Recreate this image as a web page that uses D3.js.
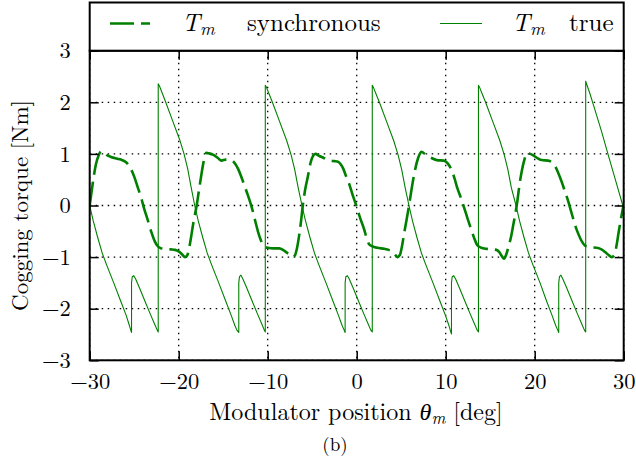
<!DOCTYPE html>
<html><head><meta charset="utf-8">
<script src="https://cdn.jsdelivr.net/npm/d3@7"></script>
<style>body{margin:0;background:#fff}</style>
</head><body><svg id="c" width="636" height="468"></svg>
<script>
const xTicks=[-30,-20,-10,0,10,20,30];
const yTicks=[-3,-2,-1,0,1,2,3];
const seriesNames=["synchronous","true"];

// T_m synchronous: [theta (deg), torque (Nm)]
const syncData=[
[-30,0],[-29.8,0.25],[-29.6,0.5],[-29.3,0.8],[-29.0,0.97],[-28.7,1.05],[-28.4,1.02],[-28.1,0.98],[-27.6,0.94],[-27.0,0.91],[-26.5,0.89],[-26.1,0.86],[-25.7,0.8],[-25.4,0.72],[-25.0,0.56],[-24.6,0.35],[-24.2,0.14],[-23.9,-0.05],[-23.5,-0.27],[-23.1,-0.5],[-22.7,-0.69],[-22.35,-0.79],[-22.0,-0.83],[-21.5,-0.84],[-20.9,-0.85],[-20.4,-0.86],[-20.0,-0.89],[-19.6,-0.95],[-19.3,-1.0],[-19.05,-0.97],[-18.8,-0.8],[-18.55,-0.55],[-18.3,-0.28],[-18.0,-0.02],[-17.7,0.32],[-17.45,0.6],[-17.2,0.85],[-16.9,1.02],[-16.6,1.01],[-16.1,0.98],[-15.6,0.92],[-15.2,0.87],[-14.7,0.89],[-14.1,0.88],[-13.7,0.82],[-13.3,0.7],[-13.0,0.57],[-12.6,0.38],[-12.25,0.21],[-11.8,-0.03],[-11.4,-0.3],[-11.1,-0.5],[-10.8,-0.66],[-10.5,-0.77],[-10.0,-0.82],[-9.3,-0.83],[-8.7,-0.83],[-8.2,-0.87],[-7.8,-0.92],[-7.5,-0.96],[-7.2,-1.0],[-6.95,-0.97],[-6.7,-0.82],[-6.45,-0.56],[-6.25,-0.3],[-6.07,-0.02],[-5.8,0.3],[-5.5,0.55],[-5.15,0.85],[-4.9,0.96],[-4.65,1.0],[-4.2,0.96],[-3.8,0.93],[-3.1,0.87],[-2.5,0.86],[-2.1,0.85],[-1.8,0.8],[-1.5,0.71],[-1.2,0.57],[-0.83,0.41],[-0.45,0.2],[-0.05,0.0],[0.4,-0.25],[0.85,-0.47],[1.1,-0.62],[1.4,-0.75],[1.75,-0.79],[2.3,-0.82],[3.1,-0.84],[3.6,-0.86],[4.0,-0.89],[4.3,-0.95],[4.56,-1.0],[4.85,-0.96],[5.1,-0.78],[5.31,-0.56],[5.6,-0.28],[5.88,0.0],[6.15,0.3],[6.45,0.6],[6.9,0.92],[7.26,1.04],[7.8,0.98],[8.3,0.93],[9.0,0.88],[9.8,0.87],[10.2,0.82],[10.6,0.71],[11.0,0.52],[11.3,0.34],[11.7,0.15],[12.05,-0.03],[12.45,-0.25],[12.8,-0.43],[13.2,-0.63],[13.55,-0.77],[14.0,-0.82],[14.6,-0.84],[15.2,-0.85],[15.7,-0.86],[16.0,-0.9],[16.3,-0.98],[16.55,-1.03],[16.8,-0.95],[17.05,-0.8],[17.35,-0.6],[17.6,-0.37],[17.98,0.0],[18.35,0.47],[18.8,0.86],[19.17,1.02],[19.5,1.0],[19.84,0.97],[20.3,0.92],[20.8,0.88],[21.5,0.87],[21.9,0.84],[22.28,0.77],[22.6,0.65],[23.03,0.46],[23.4,0.27],[23.77,0.08],[24.15,-0.15],[24.52,-0.37],[24.9,-0.55],[25.28,-0.69],[25.77,-0.79],[26.3,-0.81],[26.97,-0.82],[27.5,-0.85],[27.9,-0.9],[28.3,-0.96],[28.65,-1.0],[28.85,-0.98],[29.05,-0.9],[29.25,-0.72],[29.45,-0.5],[29.7,-0.25],[30.0,0.02]
];

// T_m true: [theta (deg), torque (Nm)]
const trueData=[
[-30,0],[-29.6,-0.3],[-29.1,-0.62],[-28.6,-0.92],[-28.1,-1.15],[-27.3,-1.5],[-26.5,-1.86],[-25.9,-2.13],[-25.55,-2.32],[-25.38,-2.42],[-25.3,-2.46],
[-25.3,-1.5],[-25.22,-1.38],[-25.05,-1.36],[-24.85,-1.42],[-24.4,-1.6],[-23.8,-1.85],[-23.2,-2.1],[-22.7,-2.3],[-22.4,-2.42],[-22.3,-2.45],
[-22.3,2.36],[-22.15,2.31],[-21.9,2.2],[-21.5,2.02],[-20.7,1.65],[-19.9,1.28],[-19.4,1.0],[-19.0,0.72],[-18.6,0.35],[-18.2,0.0],[-17.8,-0.3],[-17.3,-0.62],[-16.8,-0.92],[-16.3,-1.15],[-15.5,-1.5],[-14.7,-1.86],[-14.1,-2.13],[-13.7,-2.32],[-13.45,-2.42],[-13.25,-2.46],
[-13.25,-1.5],[-13.17,-1.38],[-13.0,-1.35],[-12.8,-1.42],[-12.35,-1.6],[-11.75,-1.85],[-11.15,-2.1],[-10.65,-2.3],[-10.37,-2.42],[-10.27,-2.45],
[-10.27,2.33],[-10.12,2.28],[-9.87,2.17],[-9.47,2.0],[-8.67,1.63],[-7.87,1.26],[-7.37,0.98],[-6.97,0.7],[-6.57,0.34],[-6.15,0.0],[-5.75,-0.3],[-5.25,-0.62],[-4.75,-0.92],[-4.25,-1.15],[-3.45,-1.5],[-2.65,-1.86],[-2.05,-2.13],[-1.65,-2.32],[-1.4,-2.42],[-1.3,-2.46],
[-1.3,-1.5],[-1.22,-1.38],[-1.05,-1.36],[-0.85,-1.42],[-0.4,-1.6],[0.2,-1.85],[0.8,-2.1],[1.3,-2.3],[1.6,-2.42],[1.75,-2.45],
[1.75,2.33],[1.9,2.28],[2.15,2.17],[2.55,2.0],[3.35,1.63],[4.15,1.26],[4.65,0.98],[5.05,0.7],[5.45,0.34],[5.87,0.0],[6.27,-0.3],[6.77,-0.62],[7.27,-0.92],[7.77,-1.15],[8.57,-1.5],[9.37,-1.86],[9.97,-2.13],[10.35,-2.32],[10.55,-2.44],[10.65,-2.49],
[10.65,-1.5],[10.73,-1.38],[10.9,-1.36],[11.1,-1.42],[11.55,-1.6],[12.15,-1.85],[12.75,-2.1],[13.25,-2.3],[13.55,-2.42],[13.68,-2.45],
[13.68,2.33],[13.83,2.28],[14.08,2.17],[14.48,2.0],[15.28,1.63],[16.08,1.26],[16.58,0.98],[16.98,0.7],[17.38,0.34],[17.9,0.0],[18.3,-0.3],[18.8,-0.62],[19.3,-0.92],[19.8,-1.15],[20.6,-1.5],[21.35,-1.86],[21.95,-2.13],[22.35,-2.32],[22.6,-2.42],[22.7,-2.46],
[22.7,-1.5],[22.78,-1.38],[22.95,-1.35],[23.15,-1.42],[23.6,-1.6],[24.2,-1.85],[24.8,-2.1],[25.3,-2.3],[25.6,-2.42],[25.73,-2.45],
[25.73,2.41],[25.88,2.33],[26.2,2.17],[26.58,1.96],[27.5,1.44],[28.46,0.86],[29.2,0.42],[29.9,0.0],[30,-0.06]
];

const W=636,H=468;
const L=89.7,R=623.7,T=50.7,B=360.3;
const green="#008000";
const FONT="Latin Modern Roman";
const svg=d3.select("#c");
const x=d3.scaleLinear().domain([-30,30]).range([L,R]);
const y=d3.scaleLinear().domain([-3,3]).range([B,T]);

svg.append("rect").attr("width",W).attr("height",H).attr("fill","#fff");

svg.append("clipPath").attr("id","clip").append("rect")
  .attr("x",L).attr("y",T).attr("width",R-L).attr("height",B-T);

// grid
const grid=svg.append("g").attr("stroke","#000").attr("stroke-width",1.3).attr("stroke-dasharray","1.5,4.5");
grid.selectAll(".gx").data(xTicks).join("line")
  .attr("x1",d=>x(d)).attr("x2",d=>x(d)).attr("y1",T).attr("y2",B);
grid.selectAll(".gy").data(yTicks).join("line")
  .attr("x1",L).attr("x2",R).attr("y1",d=>y(d)).attr("y2",d=>y(d));

// lines
const line=d3.line().x(d=>x(d[0])).y(d=>y(d[1]));
const plot=svg.append("g").attr("clip-path","url(#clip)");
plot.append("path").datum(trueData).attr("d",line)
  .attr("fill","none").attr("stroke",green).attr("stroke-width",1.1).attr("stroke-linejoin","round");
plot.append("path").datum(syncData).attr("d",d3.line().x(d=>x(d[0])).y(d=>y(d[1])).curve(d3.curveMonotoneX))
  .attr("fill","none").attr("stroke",green).attr("stroke-width",2.6).attr("stroke-dasharray","24,7");

// axes
const fmt=d=>d<0?"\u2212"+Math.abs(d):String(d);
const ax=svg.append("g").attr("transform",`translate(0,${B})`)
  .call(d3.axisBottom(x).tickValues(xTicks).tickSize(-9).tickPadding(13).tickFormat(fmt));
const ay=svg.append("g").attr("transform",`translate(${L},0)`)
  .call(d3.axisLeft(y).tickValues(yTicks).tickSize(-9).tickPadding(19).tickFormat(fmt));
const at=svg.append("g").attr("transform",`translate(0,${T})`)
  .call(d3.axisTop(x).tickValues(xTicks).tickSize(-9).tickFormat(""));
const ar=svg.append("g").attr("transform",`translate(${R},0)`)
  .call(d3.axisRight(y).tickValues(yTicks).tickSize(-9).tickFormat(""));
[ax,ay,at,ar].forEach(g=>{
  g.select(".domain").remove();
  g.selectAll(".tick line").attr("stroke","#000").attr("stroke-width",1.5);
  g.selectAll("text").style("font-family",FONT).attr("font-size",22.5).attr("fill","#000");
});

// frame
svg.append("rect").attr("x",L).attr("y",T).attr("width",R-L).attr("height",B-T)
  .attr("fill","none").attr("stroke","#000").attr("stroke-width",2);

// legend
const lg=svg.append("g");
lg.append("rect").attr("x",L).attr("y",2.5).attr("width",R-L).attr("height",T-2.5)
  .attr("fill","#fff").attr("stroke","#000").attr("stroke-width",2);
const ly=23.5;
lg.append("line").attr("x1",110).attr("x2",150).attr("y1",ly).attr("y2",ly)
  .attr("stroke",green).attr("stroke-width",2.6).attr("stroke-dasharray","24,7");
lg.append("line").attr("x1",440).attr("x2",482).attr("y1",ly).attr("y2",ly)
  .attr("stroke",green).attr("stroke-width",1.1);
function tm(g,xT,xW,label){
  const t=g.append("text").attr("x",xT).attr("y",31).attr("font-size",25).style("font-family",FONT);
  t.append("tspan").style("font-style","italic").text("T");
  t.append("tspan").style("font-style","italic").attr("font-size",18).attr("dy",4).text("m");
  g.append("text").attr("x",xW).attr("y",31).attr("font-size",25).style("font-family",FONT).text(label);
}
tm(lg,182,247,seriesNames[0]);
tm(lg,512,569,seriesNames[1]);

// axis titles
const xt=svg.append("text").attr("x",356).attr("y",420).attr("text-anchor","middle").attr("font-size",24).style("font-family",FONT);
xt.append("tspan").text("Modulator position ");
xt.append("tspan").style("font-style","italic").text("\u03B8");
xt.append("tspan").style("font-style","italic").attr("font-size",17).attr("dy",4).text("m");
xt.append("tspan").attr("dy",-4).text(" [deg]");

svg.append("text").attr("transform",`translate(28,${(T+B)/2}) rotate(-90)`).style("font-family",FONT)
  .attr("text-anchor","middle").attr("font-size",23).text("Cogging torque [Nm]");

svg.append("text").attr("x",335).attr("y",451).attr("text-anchor","middle").attr("font-size",19).style("font-family",FONT).text("(b)");
</script></body></html>
